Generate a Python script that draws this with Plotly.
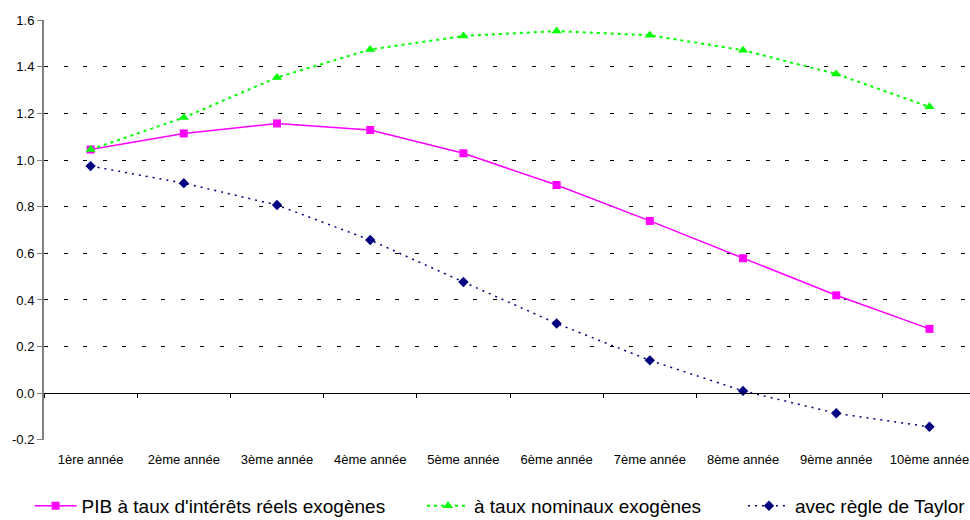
import plotly.graph_objects as go

# Catégories (années) et séries
annees = ["1ère année", "2ème année", "3ème année", "4ème année", "5ème année",
          "6ème année", "7ème année", "8ème année", "9ème année", "10ème année"]
pib_reels = [1.045, 1.114, 1.157, 1.129, 1.029, 0.893, 0.739, 0.579, 0.420, 0.276]
taux_nominaux = [1.045, 1.182, 1.354, 1.474, 1.532, 1.553, 1.535, 1.471, 1.369, 1.228]
regle_taylor = [0.974, 0.901, 0.807, 0.657, 0.477, 0.299, 0.141, 0.010, -0.086, -0.144]
y_ticks = [-0.2, 0.0, 0.2, 0.4, 0.6, 0.8, 1.0, 1.2, 1.4, 1.6]

FONT = "Liberation Sans, Arial, sans-serif"
xpos = list(range(len(annees)))
x_range = [-0.5, 9.435]
y_range = [-0.2005, 1.6005]

fig = go.Figure()

fig.add_trace(go.Scatter(
    x=xpos, y=pib_reels, mode="lines+markers",
    name="PIB à taux d'intérêts réels exogènes",
    line=dict(color="#FF00FF", width=1.5),
    marker=dict(symbol="square", size=8, color="#FF00FF"),
    legend="legend",
))
fig.add_trace(go.Scatter(
    x=xpos, y=taux_nominaux, mode="lines+markers",
    name="à taux nominaux exogènes",
    line=dict(color="#00FF00", width=2, dash="3px,4px"),
    marker=dict(symbol="triangle-up", size=9, color="#00FF00"),
    legend="legend2",
))
fig.add_trace(go.Scatter(
    x=xpos, y=regle_taylor, mode="lines+markers",
    name="avec règle de Taylor",
    line=dict(color="#000080", width=1.5, dash="2px,5px"),
    marker=dict(symbol="diamond", size=8, color="#000080"),
    legend="legend3",
))

# Axe horizontal à zéro avec graduations aux limites des catégories
fig.add_trace(go.Scatter(x=[x_range[0]], y=[0], xaxis="x2", mode="markers",
                         marker=dict(opacity=0), showlegend=False, hoverinfo="skip"))

legend_common = dict(orientation="h", yanchor="middle", y=-0.157, xanchor="left",
                     itemwidth=42,
                     font=dict(family=FONT, size=19, color="#000000"),
                     bgcolor="rgba(0,0,0,0)", borderwidth=0)

fig.update_layout(
    width=970, height=520,
    margin=dict(l=44, r=0, t=20, b=80, autoexpand=False),
    paper_bgcolor="white", plot_bgcolor="white",
    font=dict(family=FONT, size=13, color="#000000"),
    legend=dict(x=-0.0156, **legend_common),
    legend2=dict(x=0.4082, **legend_common),
    legend3=dict(x=0.7548, **legend_common),
    xaxis=dict(
        range=x_range, tickmode="array", tickvals=xpos, ticktext=annees,
        showgrid=False, zeroline=False, showline=False, ticks="",
        ticklabelstandoff=10, tickfont=dict(family=FONT, size=13, color="#000000"),
    ),
    xaxis2=dict(
        range=x_range, overlaying="x", anchor="free",
        position=(0 - y_range[0]) / (y_range[1] - y_range[0]),
        side="bottom", showgrid=False, zeroline=False,
        showline=True, linecolor="#000000", linewidth=1,
        ticks="outside", ticklen=4, tickcolor="#000000", tickwidth=1,
        tickmode="array", tickvals=[i - 0.5 for i in range(11)],
        showticklabels=False,
    ),
    yaxis=dict(
        range=y_range, tickmode="array", tickvals=y_ticks,
        ticktext=[f"{v:.1f}" for v in y_ticks],
        showgrid=True, gridcolor="#000000", gridwidth=1, griddash="4px,15.5px",
        zeroline=False, showline=True, linecolor="#808080", linewidth=2,
        ticks="outside", ticklen=5, tickcolor="#808080", tickwidth=1,
        tickfont=dict(family=FONT, size=13, color="#000000"),
    ),
    showlegend=True,
)

fig.write_html("out.html")
